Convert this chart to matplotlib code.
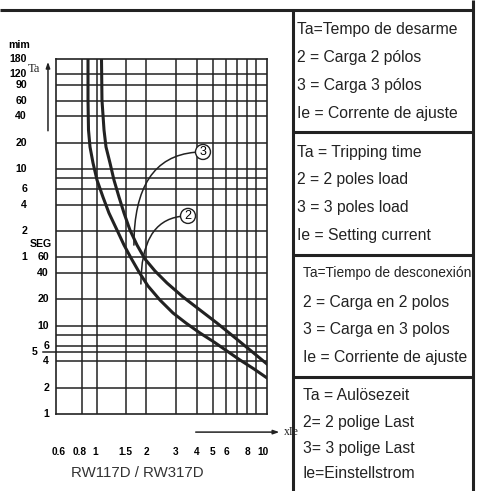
import matplotlib
matplotlib.use("Agg")
import matplotlib.pyplot as plt
import matplotlib.transforms as mtransforms
from matplotlib.lines import Line2D

plt.rcParams["font.family"] = ["Liberation Sans", "DejaVu Sans"]

# ── data ─────────────────────────────────────────────────────────────────────
# x = multiple of setting current (xIe), t = tripping time in seconds
curve_low_x = [0.900, 0.900, 0.906, 0.925, 0.964, 1.018, 1.105, 1.200, 1.340, 1.475, 1.623,
               1.812, 2.049, 2.417, 2.889, 3.453, 4.183, 5.071, 6.061, 7.245, 8.780, 10.49]
curve_low_t = [10800, 3698, 1688, 1082, 711, 456, 292, 192, 123, 83.2, 59.3,
               41.1, 28.5, 19.7, 14.05, 10.8, 8.33, 6.58, 5.20, 4.11, 3.25, 2.57]

curve_high_x = [1.083, 1.090, 1.121, 1.152, 1.217, 1.285, 1.377, 1.475, 1.601, 1.763,
                1.967, 2.256, 2.660, 3.313, 4.183, 5.284, 6.579, 8.310, 10.49]
curve_high_t = [10800, 3698, 1688, 1082, 711, 456, 292, 192, 123, 83.2,
                57.7, 42.2, 30.8, 21.4, 15.2, 10.8, 7.69, 5.34, 3.70]

x_grid = [0.83, 1.02, 1.52, 2, 3, 4, 5, 6, 7, 8, 9]
y_grid = [2, 4, 5, 6, 8, 10, 20, 40, 60, 120, 240, 360, 480, 600, 1200, 2400, 3600, 5400, 7200]

x_labels = ["0.6", "0.8", "1", "1.5", "2", "3", "4", "5", "6", "8", "10"]
x_label_vals = [0.6, 0.8, 1, 1.5, 2, 3, 4, 5, 6, 8, 10]

min_labels = [180, 120, 90, 60, 40, 20, 10, 6, 4, 2, 1]      # minutes
sec_labels = [60, 40, 20, 10, 6, 4, 2, 1]                    # seconds

legend_blocks = [
    (["Ta=Tempo de desarme", "2 = Carga 2 pólos", "3 = Carga 3 pólos", "Ie = Corrente de ajuste"],
     [34, 62, 90, 118], 297),
    (["Ta = Tripping time", "2 = 2 poles load", "3 = 3 poles load", "Ie = Setting current"],
     [157, 184, 212, 240], 297),
    (["Ta=Tiempo de desconexión", "2 = Carga en 2 polos", "3 = Carga en 3 polos", "Ie = Corriente de ajuste"],
     [277, 307, 334, 362], 303),
    (["Ta = Aulösezeit", "2= 2 polige Last", "3= 3 polige Last", "Ie=Einstellstrom"],
     [400, 427, 453, 478], 303),
]

INK = "#222222"
W, H = 478, 491

fig = plt.figure(figsize=(W / 100, H / 100), dpi=100)
fig.patch.set_facecolor("white")

def fx(px):
    return px / W

def fy(py):
    return 1 - py / H

# ── chart ────────────────────────────────────────────────────────────────────
ax = fig.add_axes([fx(56), fy(414), (267 - 56) / W, (414 - 59) / H])
ax.set_xscale("log")
ax.set_yscale("log")
ax.set_xlim(0.58, 10.5)
ax.set_ylim(1, 10800)
ax.set_xticks([])
ax.set_xticks([], minor=True)
ax.set_yticks([])
ax.set_yticks([], minor=True)
for s in ax.spines.values():
    s.set_color(INK)
    s.set_linewidth(1.2)

for v in x_grid:
    ax.axvline(v, color=INK, lw=1.1)
for v in y_grid:
    ax.axhline(v, color=INK, lw=1.1)

ax.plot(curve_low_x, curve_low_t, color=INK, lw=2.2, solid_joinstyle="round")
ax.plot(curve_high_x, curve_high_t, color=INK, lw=2.2, solid_joinstyle="round")

# circled curve markers with leaders
circ = dict(boxstyle="circle,pad=0.12", fc="white", ec=INK, lw=1.0)
leader = dict(arrowstyle="-", connectionstyle="angle3,angleA=0,angleB=90",
              color=INK, lw=1.1, shrinkA=0, shrinkB=0)
ax.annotate("3", xy=(1.69, 83), xytext=(4.36, 949), ha="center", va="center",
            fontsize=9, bbox=circ, arrowprops=leader)
ax.annotate("2", xy=(1.86, 30), xytext=(3.55, 178), ha="center", va="center",
            fontsize=9, bbox=circ, arrowprops=leader)

# x tick labels
bx = mtransforms.blended_transform_factory(ax.transData, ax.transAxes)
for lab, v in zip(x_labels, x_label_vals):
    ax.text(v, -0.107, lab, transform=bx, ha="center", va="center",
            fontsize=7.3, fontweight="bold", color="black")

# y tick labels (minutes column and seconds column)
by = mtransforms.blended_transform_factory(ax.transAxes, ax.transData)
for m in min_labels:
    ax.text(-0.137, m * 60, str(m), transform=by, ha="right", va="center",
            fontsize=7.6, fontweight="bold", color="black")
for s in sec_labels:
    ax.text(-0.033, s, str(s), transform=by, ha="right", va="center",
            fontsize=7.6, fontweight="bold", color="black")
ax.text(-0.10, 5, "5", transform=by, ha="center", va="center",
        fontsize=7.6, fontweight="bold", color="black")
ax.plot([0.485, 0.58], [5, 5], color=INK, lw=1.1, clip_on=False)
ax.text(-0.227, 1.04, "mim", transform=ax.transAxes, ha="left", va="center",
        fontsize=7.6, fontweight="bold", color="black")
ax.text(-0.125, 85, "SEG", transform=by, ha="left", va="center",
        fontsize=7.6, fontweight="bold", color="black")

# axis arrows
ax.annotate("", xy=(-0.038, 1.0), xytext=(-0.038, 0.79), xycoords="axes fraction",
            arrowprops=dict(arrowstyle="-|>,head_length=0.35,head_width=0.12", color=INK, lw=1.1))
ax.text(-0.105, 0.972, "Ta", transform=ax.transAxes, ha="center", va="center",
        fontsize=9, family=["Liberation Serif", "DejaVu Serif"], color=INK)
ax.annotate("", xy=(1.072, -0.051), xytext=(0.649, -0.051), xycoords="axes fraction",
            arrowprops=dict(arrowstyle="-|>,head_length=0.35,head_width=0.12", color=INK, lw=1.1))
ax.text(1.078, -0.051, "xIe", transform=ax.transAxes, ha="left", va="center",
        fontsize=8.5, family=["Liberation Serif", "DejaVu Serif"], color=INK)

fig.text(fx(137), fy(473), "RW117D / RW317D", ha="center", va="center",
         fontsize=10.8, color="#333333")

# ── frame and legend panel ───────────────────────────────────────────────────
def fline(x0, y0, x1, y1, lw=2.2):
    fig.add_artist(Line2D([fx(x0), fx(x1)], [fy(y0), fy(y1)], color=INK, lw=lw,
                          solid_capstyle="butt"))

fline(0, 10, 473.5, 10)
fline(472.5, 0, 472.5, 491)
fline(293, 10, 293, 491)
for yy in [132, 255, 377]:
    fline(293, yy, 473.5, yy)

for lines, baselines, x0 in legend_blocks:
    for txt, yb in zip(lines, baselines):
        size = 9.9 if txt.startswith("Ta=Tiempo") else 11.3
        fig.text(fx(x0), fy(yb), txt, ha="left", va="baseline",
                 fontsize=size, color=INK)

fig.savefig("out.png", dpi=100)
